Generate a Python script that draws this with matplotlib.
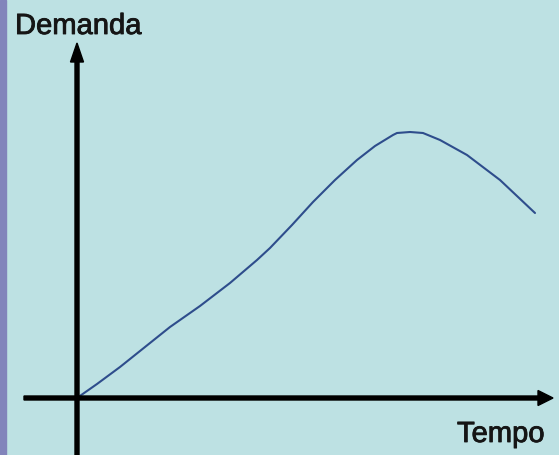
#!/usr/bin/env python3
"""Schematic demand-over-time curve (Demanda vs Tempo)."""
import matplotlib
matplotlib.use('Agg')
import matplotlib.pyplot as plt
import matplotlib.patheffects as pe
from matplotlib.patches import Rectangle

# ------------------------------------------------------------------ data
# time / demand (origin at the axes crossing)
tempo   = [0, 20, 43, 68, 93, 123, 153, 180, 193, 215, 236, 258, 280, 298,
           316, 320, 333, 346, 363, 390, 423, 458]
demanda = [0, 14, 31, 51, 71, 92, 115, 138, 150, 173, 196, 218, 238, 252,
           263, 265, 266, 265, 258, 243, 218, 185]

x_label = 'Tempo'
y_label = 'Demanda'

# ------------------------------------------------------------------ style
BG      = '#bde1e3'
STRIP   = '#8284bb'
CURVE   = '#2e4d8c'
FONT    = ['Liberation Sans', 'DejaVu Sans']
TXT_FX  = [pe.withStroke(linewidth=0.6, foreground='#151515')]

fig = plt.figure(figsize=(5.59, 4.55), dpi=100)
fig.patch.set_facecolor(BG)
ax = fig.add_axes([0, 0, 1, 1])
ax.set_facecolor(BG)
ax.set_xlim(-77, 482)
ax.set_ylim(-57, 398)
ax.axis('off')

# purple strip on the left edge
fig.patches.append(Rectangle((0, 0), 6 / 559, 1, transform=fig.transFigure,
                             color=STRIP, zorder=0))

# axes with arrow heads
ax.arrow(-53, 0, 529, 0, width=4, head_width=15, head_length=15,
         length_includes_head=True, color='black', zorder=3)
ax.arrow(0, -57, 0, 412, width=4, head_width=13, head_length=19,
         length_includes_head=True, color='black', zorder=3)

# curve
ax.plot(tempo, demanda, '-', color=CURVE, lw=1.5, zorder=2,
        solid_joinstyle='round', solid_capstyle='round')

ax.text(-62, 364, y_label, fontsize=21, family=FONT, color='#151515',
        ha='left', va='baseline', path_effects=TXT_FX)
ax.text(380, -44, x_label, fontsize=21, family=FONT, color='#151515',
        ha='left', va='baseline', path_effects=TXT_FX)

plt.savefig('out.png', dpi=100, facecolor=BG)
plt.close()
